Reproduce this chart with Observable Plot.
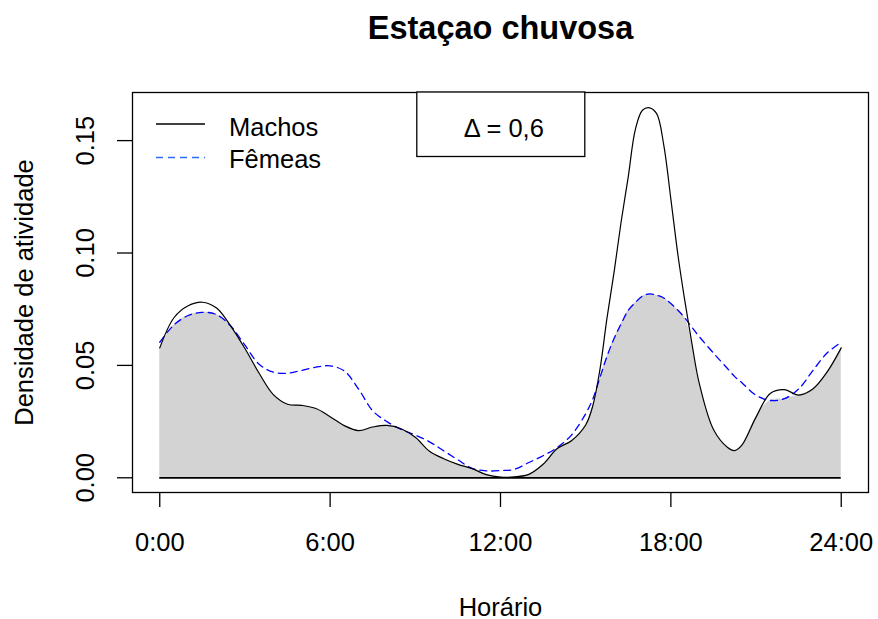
<!DOCTYPE html>
<html>
<head>
<meta charset="utf-8">
<script src="https://cdn.jsdelivr.net/npm/d3@7"></script>
<script src="https://cdn.jsdelivr.net/npm/@observablehq/plot@0.6"></script>
<style>
  html, body { margin: 0; padding: 0; background: white; }
</style>
</head>
<body>
<div id="chart"></div>
<script>
const titleText = "Estaçao chuvosa";
const xLabel = "Horário";
const yLabel = "Densidade de atividade";
const legendLabels = ["Machos", "Fêmeas"];
const deltaText = "Δ = 0,6";

const hours = [0,0.5,1,1.5,2,2.5,3,3.5,4,4.5,5,5.5,6,6.5,7,7.5,8,8.5,9,9.5,10,10.5,11,11.5,12,12.5,13,13.5,14,14.5,15,15.25,15.5,15.75,16,16.25,16.5,16.75,17,17.25,17.5,17.75,18,18.25,18.5,18.75,19,19.5,20,20.25,20.5,21,21.5,22,22.5,23,23.5,24];
const machos = [0.0578,0.0712,0.0765,0.0781,0.0755,0.0675,0.0575,0.0465,0.0370,0.0327,0.0322,0.0308,0.0272,0.0232,0.0210,0.0226,0.0233,0.0218,0.0180,0.0118,0.0085,0.0060,0.0041,0.0014,0.0003,0.0004,0.0015,0.0060,0.0130,0.0165,0.0235,0.0320,0.0480,0.0710,0.0915,0.1140,0.1340,0.1550,0.1635,0.1646,0.1620,0.1480,0.1240,0.0990,0.0780,0.0590,0.0420,0.0215,0.0135,0.0121,0.0145,0.0270,0.0375,0.0392,0.0368,0.0395,0.0470,0.0578];
const femeas = [0.0603,0.0680,0.0722,0.0736,0.0726,0.0675,0.0590,0.0505,0.0470,0.0465,0.0478,0.0492,0.0498,0.0475,0.0395,0.0298,0.0250,0.0215,0.0190,0.0160,0.0120,0.0080,0.0042,0.0031,0.0032,0.0038,0.0068,0.0098,0.0135,0.0190,0.0285,0.0350,0.0445,0.0540,0.0620,0.0685,0.0745,0.0780,0.0808,0.0818,0.0812,0.0800,0.0775,0.0745,0.0710,0.0668,0.0628,0.0555,0.0485,0.0450,0.0423,0.0367,0.0344,0.0352,0.0395,0.0477,0.0555,0.0603];

const xTicks = [0, 6, 12, 18, 24];
const xTickLabels = ["0:00", "6:00", "12:00", "18:00", "24:00"];
const yTicks = [0, 0.05, 0.10, 0.15];
const yTickLabels = ["0.00", "0.05", "0.10", "0.15"];

const rows = hours.map((h, i) => ({h, m: machos[i], f: femeas[i], o: Math.min(machos[i], femeas[i])}));

const FS = 25.5;

function legendMark(index, scales, values, dimensions) {
  const g = d3.create("svg:g").attr("font-family", "Liberation Sans, Arial, sans-serif");
  const L = dimensions.marginLeft, T = dimensions.marginTop;
  const W = dimensions.width - dimensions.marginLeft - dimensions.marginRight;
  // legend lines
  g.append("line").attr("x1", L + 24).attr("x2", L + 73).attr("y1", T + 32).attr("y2", T + 32)
    .attr("stroke", "black").attr("stroke-width", 1.3);
  g.append("line").attr("x1", L + 24).attr("x2", L + 73).attr("y1", T + 65.5).attr("y2", T + 65.5)
    .attr("stroke", "#2a6cff").attr("stroke-width", 1.3).attr("stroke-dasharray", "7,5");
  g.append("text").attr("x", L + 97).attr("y", T + 44).attr("font-size", FS).attr("text-anchor", "start")
    .attr("fill", "black").text(legendLabels[0]);
  g.append("text").attr("x", L + 97).attr("y", T + 76).attr("font-size", FS).attr("text-anchor", "start")
    .attr("fill", "black").text(legendLabels[1]);
  // delta box
  const cx = L + W / 2 + 0.8;
  g.append("rect").attr("x", cx - 84).attr("y", T).attr("width", 168).attr("height", 64.5)
    .attr("fill", "white").attr("stroke", "black").attr("stroke-width", 1.3);
  g.append("text").attr("x", cx + 3).attr("y", T + 44.5).attr("font-size", FS).attr("text-anchor", "middle")
    .attr("fill", "black").text(deltaText);
  return g.node();
}

const chart = Plot.plot({
  width: 878,
  height: 619,
  marginLeft: 132,
  marginRight: 10,
  marginTop: 92,
  marginBottom: 127,
  x: {domain: [-0.96, 24.96]},
  y: {domain: [-0.00654, 0.1714]},
  style: {fontFamily: "Liberation Sans, Arial, sans-serif", background: "white", color: "black"},
  marks: [
    Plot.areaY(rows, {x: "h", y: "o", fill: "#d3d3d3", curve: "catmull-rom"}),
    Plot.ruleY([0], {x1: xTicks[0], x2: xTicks[xTicks.length - 1], stroke: "black", strokeWidth: 1.8}),
    Plot.line(rows, {x: "h", y: "f", stroke: "blue", strokeWidth: 1.3, strokeDasharray: "7,5", curve: "catmull-rom"}),
    Plot.line(rows, {x: "h", y: "m", stroke: "black", strokeWidth: 1.2, curve: "catmull-rom"}),
    Plot.frame({stroke: "black", strokeWidth: 1.3}),
    Plot.axisX({ticks: xTicks, tickSize: 15, tickFormat: () => "", label: null, stroke: "black", strokeWidth: 1.3}),
    Plot.axisY({ticks: yTicks, tickSize: 15, tickFormat: () => "", label: null, stroke: "black", strokeWidth: 1.3}),
    Plot.text(xTicks, {x: d => d, text: (d, i) => xTickLabels[i], frameAnchor: "bottom", lineAnchor: "bottom", dy: 58, fontSize: FS, fill: "black"}),
    Plot.text(yTicks, {y: d => d, text: (d, i) => yTickLabels[i], frameAnchor: "left", lineAnchor: "bottom", textAnchor: "middle", rotate: -90, dx: -39, fontSize: FS, fill: "black"}),
    Plot.text([xLabel], {frameAnchor: "bottom", lineAnchor: "bottom", dy: 123, fontSize: FS, fill: "black"}),
    Plot.text([yLabel], {frameAnchor: "left", lineAnchor: "bottom", textAnchor: "middle", rotate: -90, dx: -100, fontSize: FS, fill: "black"}),
    Plot.text([titleText], {frameAnchor: "top", lineAnchor: "bottom", dy: -54, fontSize: 32.5, fontWeight: "bold", fill: "black"}),
    legendMark
  ]
});

document.getElementById("chart").appendChild(chart);
</script>
</body>
</html>
